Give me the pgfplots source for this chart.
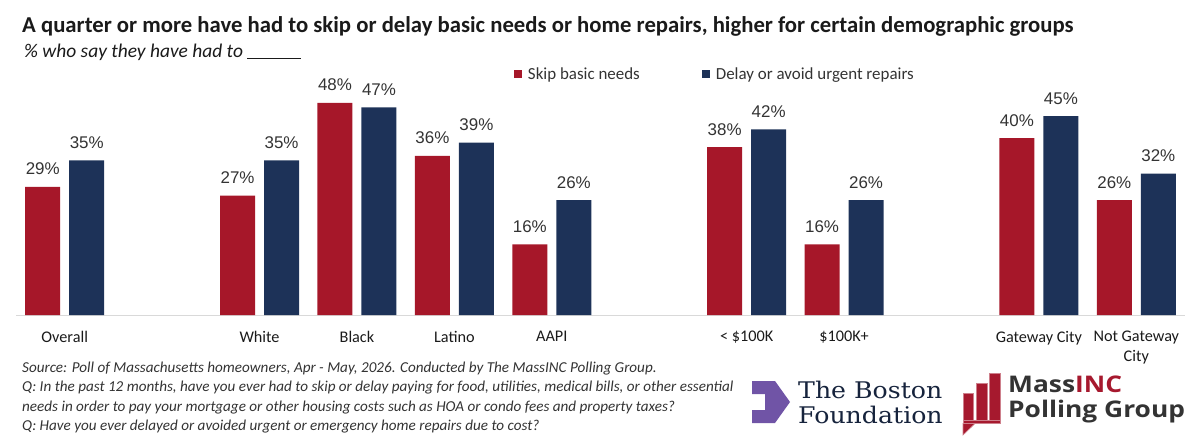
\documentclass[border=0pt]{standalone}
\usepackage{fontspec}
\setmainfont{Carlito}
\newfontfamily\labelfont{Liberation Sans}
\newfontfamily\tbffont{DejaVu Serif}[FakeStretch=1.1]
\newfontfamily\mifont{Open Sans}[FakeStretch=1.15]
\usepackage{pgfplots}
\pgfplotsset{compat=1.18}

\definecolor{skipred}{HTML}{A61729}
\definecolor{delaynavy}{HTML}{1D3258}
\definecolor{axisgray}{HTML}{D9D9D9}
\definecolor{titleblack}{HTML}{1A1A1A}
\definecolor{notegray}{HTML}{333333}
\definecolor{tbfpurple}{HTML}{7054A6}
\definecolor{tbfnavy}{HTML}{16233C}
\definecolor{migray}{HTML}{333333}
\definecolor{mired}{HTML}{A6192E}

\begin{document}
\begin{tikzpicture}
\useasboundingbox (0,0) rectangle (1200bp,-442bp);

\begin{axis}[
  at={(16bp,-315bp)}, anchor=south west,
  scale only axis, width=1169bp, height=221bp,
  xmin=-0.5, xmax=11.5, ymin=0, ymax=50,
  clip=false,
  ybar=9bp, bar width=35bp,
  axis y line=none, axis x line*=bottom,
  x axis line style={draw=axisgray, line width=1bp},
  xtick={0,2,3,4,5,7,8,10,11},
  xticklabels={Overall, White, Black, Latino, AAPI, {< \$100K}, {\$100K+}, {Gateway City}, {Not Gateway\\City}},
  xtick style={draw=none}, major tick length=0pt,
  xticklabel style={font=\fontsize{16.3}{20}\selectfont, text=titleblack, align=center, anchor=north, inner sep=0pt, yshift=-16bp},
  nodes near coords={\pgfmathprintnumber[assume math mode=true]{\pgfplotspointmeta}\%},
  every node near coord/.append style={font=\labelfont\fontsize{17}{20}\selectfont, text=notegray, anchor=base, inner sep=0pt, yshift=12bp},
  sqlegend/.style={legend image code/.code={\fill[##1] (0bp,-4bp) rectangle (8bp,4bp);}},
  legend columns=2,
  legend style={draw=none, fill=none, at={(0.426,1.0905)}, anchor=west, inner sep=0pt, outer sep=0pt,
    font=\fontsize{17}{20}\selectfont, text=notegray,
    nodes={inner sep=0pt},
    /tikz/every odd column/.append style={column sep=6bp},
    /tikz/every even column/.append style={column sep=62bp}},
]
% skipped basic needs
\addplot[fill=skipred, draw=none, sqlegend] coordinates {
  (0,29) (2,27) (3,48) (4,36) (5,16) (7,38) (8,16) (10,40) (11,26)};
% delayed or avoided urgent repairs
\addplot[fill=delaynavy, draw=none, sqlegend] coordinates {
  (0,35) (2,35) (3,47) (4,39) (5,26) (7,42) (8,26) (10,45) (11,32)};
\legend{Skip basic needs, Delay or avoid urgent repairs}
\end{axis}

\begin{scope}[x=1bp, y=-1bp]
% heading
\node[anchor=base west, inner sep=0pt, text=titleblack, font=\bfseries\fontsize{22.8}{26}\selectfont] at (22,32)
  {A quarter or more have had to skip or delay basic needs or home repairs, higher for certain demographic groups};
\node[anchor=base west, inner sep=0pt, text=titleblack, font=\itshape\fontsize{19.5}{22}\selectfont] at (24,57)
  {\% who say they have had to \rule[-1.5bp]{54bp}{0.9bp}};

% notes
\begin{scope}[every node/.style={anchor=base west, inner sep=0pt, text=notegray, font=\itshape\fontsize{15.2}{18}\selectfont}]
\node at (22,372) {Source: Poll of Massachusetts homeowners, Apr - May, 2026. Conducted by The MassINC Polling Group.};
\node at (22,391.5) {Q: In the past 12 months, have you ever had to skip or delay paying for food, utilities, medical bills, or other essential};
\node at (22,411) {needs in order to pay your mortgage or other housing costs such as HOA or condo fees and property taxes?};
\node at (22,430) {Q: Have you ever delayed or avoided urgent or emergency home repairs due to cost?};
\end{scope}

% The Boston Foundation mark
\fill[tbfpurple] (752,381) -- (775,381) -- (790,402) -- (775,423) -- (752,423) -- (752,410) -- (765,410) -- (765,394) -- (752,394) -- cycle;
\node[anchor=base west, inner sep=0pt, text=tbfnavy, font=\tbffont\fontsize{23}{26}\selectfont] at (798,398) {The Boston};
\node[anchor=base west, inner sep=0pt, text=tbfnavy, font=\tbffont\fontsize{23}{26}\selectfont] at (798,423) {Foundation};

% MassINC Polling Group mark
\begin{scope}[fill=mired, draw=mired!55!white, line width=0.6bp]
\filldraw (963,393) rectangle (973,420);
\filldraw (976,383) rectangle (987,420);
\filldraw (989,373) rectangle (1000,420);
\filldraw (963,420.5) rectangle (1000,423.5);
\filldraw (963,423.5) -- (963,435) -- (975,423.5) -- cycle;
\end{scope}
\node[anchor=base west, inner sep=0pt, font=\mifont\bfseries\fontsize{23}{26}\selectfont] at (1008,392)
  {\textcolor{migray}{Mass}\textcolor{mired}{INC}};
\node[anchor=base west, inner sep=0pt, text=migray, font=\mifont\bfseries\fontsize{23}{26}\selectfont] at (1008,417)
  {Polling Group};
\end{scope}
\end{tikzpicture}
\end{document}
